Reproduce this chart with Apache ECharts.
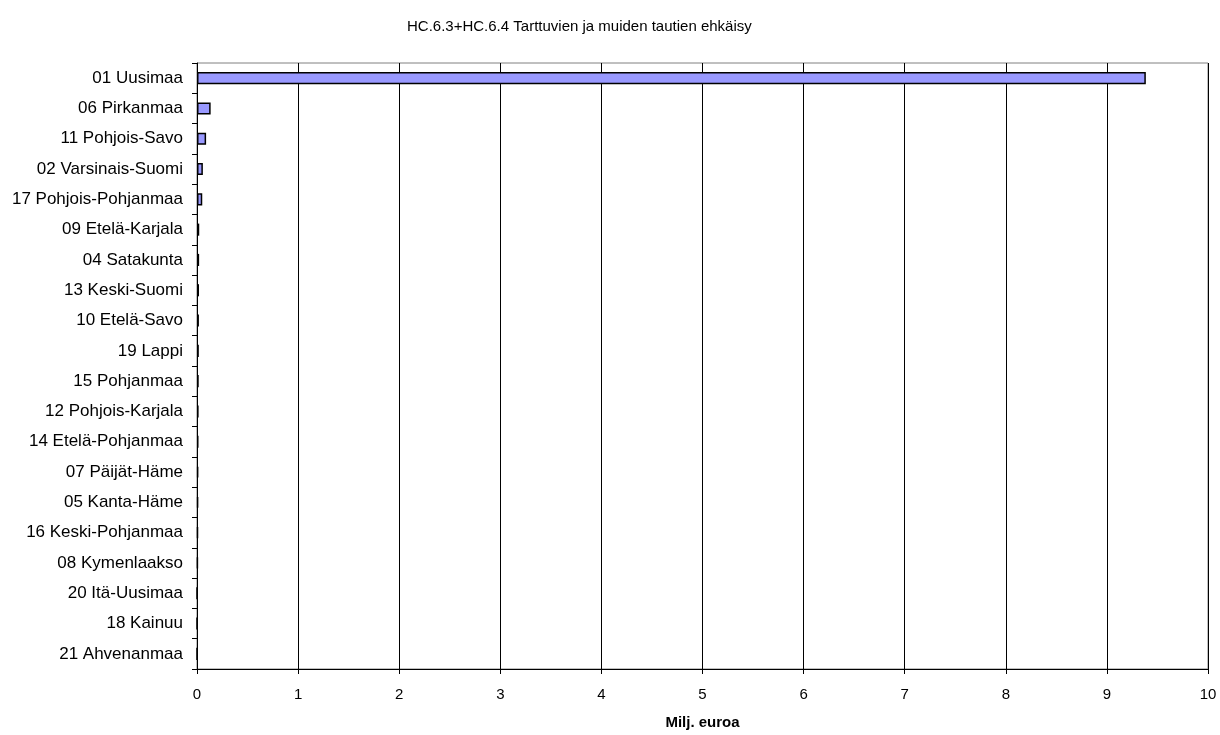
<!DOCTYPE html>
<html><head><meta charset="utf-8">
<script src="https://cdn.jsdelivr.net/npm/echarts@6/dist/echarts.min.js"></script>
<style>html,body{margin:0;padding:0;background:#fff}#c{width:1220px;height:735px}</style>
</head><body><div id="c"></div>
<script>
const categories = ["01 Uusimaa","06 Pirkanmaa","11 Pohjois-Savo","02 Varsinais-Suomi","17 Pohjois-Pohjanmaa","09 Etelä-Karjala","04 Satakunta","13 Keski-Suomi","10 Etelä-Savo","19 Lappi","15 Pohjanmaa","12 Pohjois-Karjala","14 Etelä-Pohjanmaa","07 Päijät-Häme","05 Kanta-Häme","16 Keski-Pohjanmaa","08 Kymenlaakso","20 Itä-Uusimaa","18 Kainuu","21 Ahvenanmaa"];
const values = [9.385,0.135,0.09,0.058,0.052,0.022,0.021,0.02,0.019,0.018,0.017,0.016,0.015,0.013,0.012,0.01,0.008,0,0,0];
const xTicks = [0,1,2,3,4,5,6,7,8,9,10];
const chart = echarts.init(document.getElementById('c'));
const font = 'Liberation Sans, Arial, sans-serif';
chart.setOption({
  animation:false,
  title:{text:'HC.6.3+HC.6.4 Tarttuvien ja muiden tautien ehkäisy',left:402,top:14,textStyle:{fontFamily:font,fontSize:15,fontWeight:'normal',color:'#000'}},
  grid:{left:197,right:12,top:63,bottom:62,show:true,borderColor:'#808080',borderWidth:1},
  xAxis:{type:'value',min:xTicks[0],max:xTicks[xTicks.length-1],interval:1,
    name:'Milj. euroa',nameLocation:'middle',nameGap:46,nameTextStyle:{fontFamily:font,fontSize:15,fontWeight:'bold',color:'#000'},
    axisLine:{show:true,lineStyle:{color:'#000'}},axisTick:{show:true,length:5,lineStyle:{color:'#000'}},
    axisLabel:{fontFamily:font,fontSize:15,color:'#000',margin:18},
    splitLine:{show:true,lineStyle:{color:'#000',width:1}}},
  yAxis:{type:'category',data:categories,inverse:true,
    axisLine:{show:true,lineStyle:{color:'#000'}},axisTick:{show:true,length:5,lineStyle:{color:'#000'}},
    axisLabel:{fontFamily:font,fontSize:17,color:'#000',margin:14},splitLine:{show:false}},
  series:[{type:'bar',data:values,barWidth:'40%',itemStyle:{color:'#9999FF',borderColor:'#000',borderWidth:1.5}}]
});
</script></body></html>
